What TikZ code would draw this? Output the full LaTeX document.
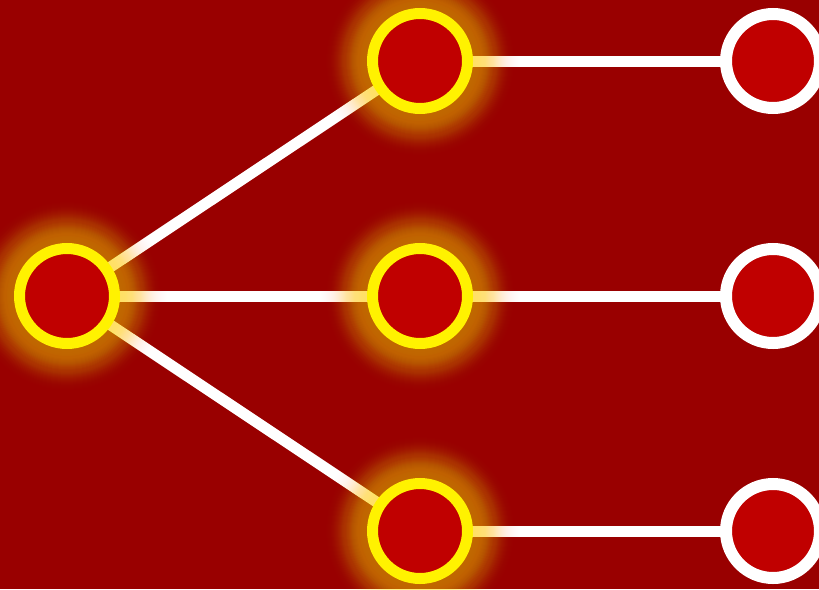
\documentclass[tikz,border=0pt]{standalone}
\definecolor{bgred}{HTML}{990000}
\definecolor{nodered}{HTML}{C00000}
\definecolor{glowcol}{HTML}{FFE000}
\tikzset{
  hot/.style={circle, inner sep=0pt, minimum size=95pt, draw=yellow, line width=11pt, fill=nodered},
  cold/.style={circle, inner sep=0pt, minimum size=94pt, draw=white, line width=12pt, fill=nodered},
  link/.style={draw=white, line width=11pt},
  glowring/.style={fill=glowcol}
}
\begin{document}
\begin{tikzpicture}[x=1pt,y=-1pt]
\fill[bgred] (0,0) rectangle (819,589);
\useasboundingbox (0,0) rectangle (819,589);
\coordinate (pa) at (67,296);
\coordinate (pb) at (420,61);
\coordinate (pc) at (420,296);
\coordinate (pd) at (420,531);
\coordinate (pe) at (773,61);
\coordinate (pf) at (773,296);
\coordinate (pg) at (773,531);
\draw[link] (pa) -- (pb);
\draw[link] (pa) -- (pc);
\draw[link] (pa) -- (pd);
\draw[link] (pb) -- (pe);
\draw[link] (pc) -- (pf);
\draw[link] (pd) -- (pg);
\foreach \p in {pa,pb,pc,pd}{
  \foreach \r in {54,55,...,100}{
    \pgfmathsetmacro\op{0.8*(\r-53)/288*exp(-((\r-53)/24)^2)}
    \fill[glowring, fill opacity=\op] (\p) circle (\r);
  }
}
\node[hot] (a) at (pa) {};
\node[hot] (b) at (pb) {};
\node[hot] (c) at (pc) {};
\node[hot] (d) at (pd) {};
\node[cold] (e) at (pe) {};
\node[cold] (f) at (pf) {};
\node[cold] (g) at (pg) {};
\end{tikzpicture}
\end{document}
